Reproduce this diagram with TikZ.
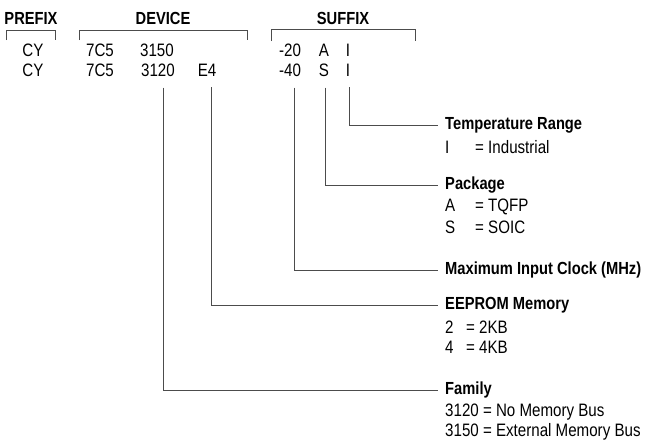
\documentclass[tikz,border=0pt]{standalone}
\usepackage{fontspec}
\setmainfont{Liberation Sans}[FakeStretch=0.84]
\usetikzlibrary{positioning}

\begin{document}
\begin{tikzpicture}[
    x=1pt, y=-1pt,
    every node/.style={font=\fontsize{18}{20}\selectfont, inner sep=0pt},
    head/.style={font=\fontsize{17.5}{20}\selectfont\bfseries},
    title/.style={anchor=west, font=\fontsize{17.5}{20}\selectfont\bfseries},
    item/.style={anchor=west},
    bracket/.style={draw=black!70, line width=1pt},
    conn/.style={draw=black!70, line width=1pt}
]
    \useasboundingbox (0,0) rectangle (645,442);

    % Headers
    \node[head] (prefix) at (31, 18) {PREFIX};
    \node[head] (device) at (163, 18) {DEVICE};
    \node[head] (suffix) at (343, 18) {SUFFIX};

    % Brackets
    \draw[bracket] (6, 40) |- (55, 30) -- (55, 40);
    \draw[bracket] (79, 40) |- (247, 30) -- (247, 40);
    \draw[bracket] (271, 41) |- (415, 29) -- (415, 41);

    % Part numbers
    \node (cy1) at (33, 50) {CY};
    \node (cy2) at (33, 70) {CY};
    \node (dev1) at (100, 50) {7C5};
    \node (dev2) at (100, 70) {7C5};
    \node (fam1) at (157, 50) {3150};
    \node (fam2) at (158, 70) {3120};
    \node (eep) at (207, 70) {E4};
    \node (clk1) at (290, 50) {-20};
    \node (clk2) at (290, 70) {-40};
    \node (pkg1) at (324, 50) {A};
    \node (pkg2) at (324, 70) {S};
    \node (tmp1) at (348, 50) {I};
    \node (tmp2) at (348, 70) {I};

    % Legend
    \node[title] (temp) at (445, 125) {Temperature Range};
    \node[item] (tempI) at (445, 147) {\makebox[30pt][l]{I}= Industrial};

    \node[title] (package) at (445, 185) {Package};
    \node[item] (pkgA) at (445, 207) {\makebox[30pt][l]{A}= TQFP};
    \node[item] (pkgS) at (445, 227) {\makebox[30pt][l]{S}= SOIC};

    \node[title] (clock) at (445, 270) {Maximum Input Clock (MHz)};

    \node[title] (eeprom) at (445, 305) {EEPROM Memory};
    \node[item] (eep2) at (445, 327) {\makebox[21pt][l]{2}= 2KB};
    \node[item] (eep4) at (445, 347) {\makebox[21pt][l]{4}= 4KB};

    \node[title] (family) at (445, 390) {Family};
    \node[item] (fam3120) at (445, 412) {3120 = No Memory Bus};
    \node[item] (fam3150) at (445, 432) {3150 = External Memory Bus};

    % Connections
    \draw[conn] ([xshift=1pt, yshift=-11pt]tmp2.south) |- ([xshift=-7pt]temp.west);
    \draw[conn] ([xshift=1pt, yshift=-11pt]pkg2.south) |- ([xshift=-7pt]package.west);
    \draw[conn] ([xshift=4pt, yshift=-11pt]clk2.south) |- ([xshift=-7pt]clock.west);
    \draw[conn] ([xshift=4pt, yshift=-11pt]eep.south) |- ([xshift=-7pt]eeprom.west);
    \draw[conn] ([xshift=5pt, yshift=-11pt]fam2.south) |- ([xshift=-7pt]family.west);

\end{tikzpicture}
\end{document}
